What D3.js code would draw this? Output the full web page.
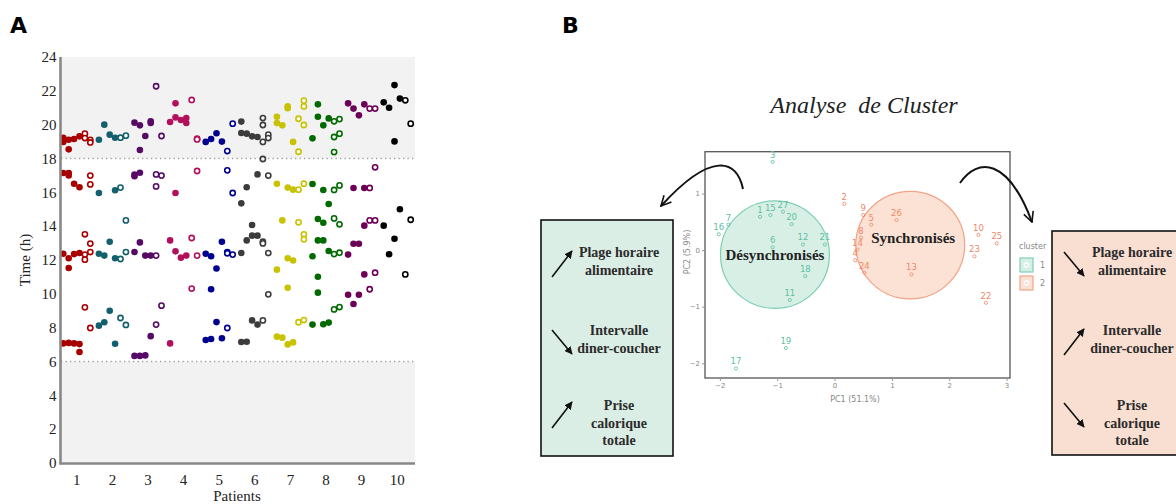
<!DOCTYPE html>
<meta charset="utf-8">
<style>
body { margin: 0; background: #fff; }
text { font-family: "Liberation Serif", serif; }
.panel { font-family: "DejaVu Sans", sans-serif; font-weight: bold; font-size: 22px; }
.tiny { font-family: "DejaVu Sans", sans-serif; font-size: 7px; fill: #888; }
</style>
<body>
<script src="https://d3js.org/d3.v7.min.js"></script>
<script>

width = 1176;
height = 504;

// ---- panel A data: meal times (h) per patient, per recorded day ----
patients = [1, 2, 3, 4, 5, 6, 7, 8, 9, 10];
days = [0, 1, 2, 3, 4, 5];
weekendDays = [4, 5];
patientColors = ['#a80000', '#12606e', '#560a66', '#b3105c', '#000090',
                 '#3c3c3c', '#c8c200', '#006a00', '#6c0058', '#000000'];

p1 = [[19.23, 18.98, 17.14, 12.37, 7.07], [19.11, 18.54, 17.14, 17.0, 12.1, 11.53, 7.1], [19.15, 16.51, 12.35, 7.07],
      [19.31, 16.3, 12.41, 7.03, 6.56], [19.47, 19.21, 13.52, 12.32, 12.02, 9.2], [19.1, 18.95, 16.99, 16.47, 12.97, 12.47, 7.98]];
p2 = [[19.11, 15.96, 12.37, 8.12], [20.0, 12.26, 8.32], [19.41, 13.08, 9.0],
      [19.23, 16.12, 12.1, 7.05], [19.23, 16.28, 12.06, 8.57], [19.35, 14.34, 12.47, 8.16]];
p3 = [[20.12, 17.05, 16.95, 12.47, 6.33], [19.96, 18.5, 17.16, 13.04, 6.33], [19.33, 12.26, 6.36],
      [20.2, 20.1, 12.26, 7.5], [22.27, 17.06, 16.35, 12.26, 8.18], [19.33, 16.99, 9.3]];
p4 = [[20.16, 13.16, 7.07], [21.26, 20.43, 15.96, 12.51], [20.28, 12.14],
      [20.39, 20.1, 12.26], [21.46, 13.3, 10.31], [19.17, 19.13, 17.26, 12.26]];
p5 = [[18.98, 12.37, 7.27], [19.15, 12.22, 10.27, 7.33], [19.49, 11.5, 8.33],
      [19.0, 13.08, 7.37], [18.44, 17.3, 12.47, 12.4, 7.98], [20.06, 15.96, 12.32]];
p6 = [[20.18, 19.51, 15.35, 12.41, 7.15], [19.47, 16.3, 13.16, 7.17], [19.31, 14.07, 13.44, 8.43],
      [19.27, 17.06, 13.44, 8.18], [20.39, 19.98, 18.98, 17.97, 13.08, 12.98, 8.43], [19.41, 19.21, 16.99, 12.41, 9.97]];
p7 = [[20.47, 20.1, 16.51, 11.43, 7.47], [19.96, 14.34, 7.41], [21.08, 20.97, 16.28, 12.1, 10.36, 7.01],
      [18.98, 16.16, 11.97, 7.13], [20.35, 18.4, 16.16, 14.23, 8.32], [21.42, 21.08, 19.98, 16.51, 13.52, 13.22, 8.45]];
p8 = [[19.19, 16.49, 12.22, 8.18], [21.2, 20.47, 14.42, 13.16, 11.01, 10.07], [19.96, 16.14, 14.2, 13.16, 8.2],
      [20.37, 15.31, 12.53, 8.3], [20.2, 19.27, 18.38, 16.14, 14.46, 12.35, 9.08], [20.33, 19.47, 16.41, 14.11, 12.43, 9.22]];
p9 = [[21.26, 12.32, 9.95], [20.95, 16.26, 12.96, 9.4], [20.55, 12.96, 9.95],
      [21.2, 16.26, 14.03, 11.15], [20.95, 16.26, 14.34, 10.27], [20.95, 17.48, 14.34, 11.25]];
p10 = [[21.32, 14.03], [21.0, 12.34], [22.34, 19.01, 13.26],
       [21.54, 15.0], [21.44, 11.15], [20.06, 14.38]];
mealTimes = [p1, p2, p3, p4, p5, p6, p7, p8, p9, p10];
yTicks = d3.range(0, 25, 2);
nightBands = [[18, 24], [0, 6]];

// ---- panel B data: PCA coordinates ----
pcaLabels  = ['3', '16', '7', '1', '15', '27', '20', '6', '12', '18', '21', '11', '19', '17',
              '2', '9', '5', '26', '8', '14', '4', '24', '10', '25', '23', '13', '22'];
pc1 = [-1.08, -2.02, -1.85, -1.30, -1.12, -0.90, -0.75, -1.08, -0.55, -0.51, -0.17, -0.78, -0.85, -1.72,
       0.17, 0.50, 0.64, 1.08, 0.46, 0.40, 0.36, 0.52, 2.51, 2.83, 2.44, 1.34, 2.64];
pc2 = [1.56, 0.28, 0.45, 0.59, 0.62, 0.68, 0.46, 0.05, 0.10, -0.46, 0.10, -0.88, -1.73, -2.09,
       0.82, 0.62, 0.45, 0.53, 0.22, 0.01, -0.18, -0.40, 0.27, 0.12, -0.11, -0.43, -0.93];
pcaCluster = [1, 1, 1, 1, 1, 1, 1, 1, 1, 1, 1, 1, 1, 1, 2, 2, 2, 2, 2, 2, 2, 2, 2, 2, 2, 2, 2];
clusterIds = [1, 2];
clusterNames = ['Désynchronisés', 'Synchronisés'];
clusterCx = [-1.04, 1.32];
clusterCy = [-0.08, 0.09];
clusterR = 0.95;
pcTicks = [-2, -1, 0, 1, 2, 3];
pcYTicks = [-2, -1, 0, 1];
boxLines = [['Plage horaire', 'alimentaire'], ['Intervalle', 'diner-coucher'], ['Prise', 'calorique', 'totale']];
trendDesync = ['up', 'down', 'up'];
trendSync = ['down', 'up', 'down'];

svg = d3.select('body').append('svg')
    .attr('width', width)
    .attr('height', height);

// ================= Panel A =================
xA = d3.scaleBand().domain(patients).range([59, 415]);
dayX = d3.scalePoint().domain(days).range([-13.5, 13.5]);
yA = d3.scaleLinear().domain([0, 24]).range([463, 57]);

gA = svg.append('g');

gA.selectAll('rect.band')
  .data(nightBands)
  .join('rect')
    .attr('x', 61).attr('width', 354)
    .attr('y', d => yA(d[1]))
    .attr('height', d => yA(d[0]) - yA(d[1]))
    .attr('fill', '#f2f2f2');

gA.selectAll('line.dot')
  .data([18, 6])
  .join('line')
    .attr('x1', 61).attr('x2', 415)
    .attr('y1', d => yA(d)).attr('y2', d => yA(d))
    .attr('stroke', '#a0a0a0')
    .attr('stroke-width', 1.3)
    .attr('stroke-dasharray', '1.3,3.2');

pts = [];
mealTimes.forEach((pd, i) => pd.forEach((times, d) => times.forEach(t =>
  pts.push({patient: patients[i], color: patientColors[i], day: d, time: t, open: weekendDays.includes(d)}))));

gA.selectAll('circle')
  .data(pts)
  .join('circle')
    .attr('cx', d => xA(d.patient) + xA.bandwidth() / 2 + dayX(d.day))
    .attr('cy', d => yA(d.time))
    .attr('r', d => d.open ? 2.6 : 3.3)
    .attr('fill', d => d.open ? '#fff' : d.color)
    .attr('stroke', d => d.open ? d.color : 'none')
    .attr('stroke-width', 1.6);

yAxis = gA.append('g')
    .attr('transform', 'translate(60.5,0)')
    .call(d3.axisLeft(yA).tickValues(yTicks).tickSize(0).tickPadding(4));
yAxis.select('.domain').remove();
yAxis.selectAll('text').style('font-family', '"Liberation Serif", serif').style('font-size', '15px').attr('fill', '#222');

xAxis = gA.append('g')
    .attr('transform', 'translate(0,463.5)')
    .call(d3.axisBottom(xA).tickSize(0).tickPadding(11));
xAxis.select('.domain').remove();
xAxis.selectAll('text').style('font-family', '"Liberation Serif", serif').style('font-size', '15px').attr('fill', '#222');

gA.append('line').attr('x1', 60.5).attr('x2', 60.5).attr('y1', 57).attr('y2', 464.5)
    .attr('stroke', '#888').attr('stroke-width', 2.6);
gA.append('line').attr('x1', 59.5).attr('x2', 415).attr('y1', 463.5).attr('y2', 463.5)
    .attr('stroke', '#888').attr('stroke-width', 2.6);

gA.append('text')
    .attr('x', 237).attr('y', 501)
    .attr('text-anchor', 'middle')
    .style('font-size', '15px').attr('fill', '#222')
    .text('Patients');
gA.append('text')
    .attr('transform', 'translate(30,260) rotate(-90)')
    .attr('text-anchor', 'middle')
    .style('font-size', '15px').attr('fill', '#222')
    .text('Time (h)');

svg.append('text').attr('class', 'panel').attr('x', 10).attr('y', 33).text('A');
svg.append('text').attr('class', 'panel').attr('x', 562).attr('y', 33).text('B');

// ================= Panel B =================
gB = svg.append('g');

gB.append('text')
    .attr('x', 864).attr('y', 113)
    .attr('text-anchor', 'middle')
    .style('font-size', '24px').style('font-style', 'italic')
    .attr('fill', '#222')
    .attr('xml:space', 'preserve')
    .text('Analyse  de Cluster');

xB = d3.scaleLinear().domain([-2.26, 3.06]).range([705, 1010]);
yB = d3.scaleLinear().domain([-2.26, 1.74]).range([378, 151.7]);
clusterFill = d3.scaleOrdinal().domain(clusterIds).range(['#d8efe6', '#fce2d5']);
clusterStroke = d3.scaleOrdinal().domain(clusterIds).range(['#7fcfb4', '#f3a386']);
clusterText = d3.scaleOrdinal().domain(clusterIds).range(['#5cbf9f', '#ee8766']);

gB.append('rect')
    .attr('x', 705).attr('y', 151.7).attr('width', 305).attr('height', 226.3)
    .attr('fill', '#fff').attr('stroke', '#555').attr('stroke-width', 1.3);

gB.selectAll('ellipse')
  .data(clusterIds)
  .join('ellipse')
    .attr('cx', (d, i) => xB(clusterCx[i]))
    .attr('cy', (d, i) => yB(clusterCy[i]))
    .attr('rx', xB(clusterR) - xB(0))
    .attr('ry', yB(0) - yB(clusterR))
    .attr('fill', d => clusterFill(d))
    .attr('stroke', d => clusterStroke(d))
    .attr('stroke-width', 1.2);

pcaPts = pcaLabels.map((l, i) => ({label: l, x: pc1[i], y: pc2[i], c: pcaCluster[i]}));

gB.selectAll('circle.pt')
  .data(pcaPts)
  .join('circle')
    .attr('cx', d => xB(d.x)).attr('cy', d => yB(d.y))
    .attr('r', 1.6)
    .attr('fill', 'none')
    .attr('stroke', d => clusterText(d.c))
    .attr('stroke-width', 0.8);

gB.selectAll('text.lab')
  .data(pcaPts)
  .join('text')
    .attr('x', d => xB(d.x)).attr('y', d => yB(d.y) - 4)
    .attr('text-anchor', 'middle')
    .style('font-family', '"DejaVu Sans", sans-serif')
    .style('font-size', '8.5px')
    .attr('fill', d => clusterText(d.c))
    .text(d => d.label);

gB.selectAll('text.cname')
  .data(clusterNames)
  .join('text')
    .attr('x', (d, i) => xB(clusterCx[i]) + (i === 0 ? 0 : 3))
    .attr('y', (d, i) => yB(clusterCy[i]) + (i === 0 ? 5 : -2))
    .attr('text-anchor', 'middle')
    .style('font-size', '15px').style('font-weight', 'bold')
    .attr('fill', '#222')
    .text(d => d);

// PCA axes
xAxB = gB.append('g').attr('transform', 'translate(0,378)')
    .call(d3.axisBottom(xB).tickValues(pcTicks).tickFormat(d3.format('d')).tickSize(3).tickPadding(2));
yAxB = gB.append('g').attr('transform', 'translate(705,0)')
    .call(d3.axisLeft(yB).tickValues(pcYTicks).tickFormat(d3.format('d')).tickSize(3).tickPadding(2));
[xAxB, yAxB].forEach(a => {
  a.select('.domain').remove();
  a.selectAll('line').attr('stroke', '#999');
  a.selectAll('text').attr('class', 'tiny').attr('fill', '#888');
});
gB.append('text').attr('class', 'tiny')
    .attr('x', 855).attr('y', 402).attr('text-anchor', 'middle').style('font-size', '8px').attr('fill', '#6a7090')
    .text('PC1 (51.1%)');
gB.append('text').attr('class', 'tiny')
    .attr('transform', 'translate(690,252) rotate(-90)').attr('text-anchor', 'middle').style('font-size', '8px')
    .text('PC2 (5.9%)');

// legend
gB.append('text').attr('class', 'tiny').attr('x', 1019).attr('y', 249).style('font-size', '8px').attr('fill', '#6a7090').text('cluster');
leg = gB.selectAll('g.leg')
  .data(clusterIds)
  .join('g')
    .attr('transform', (d, i) => `translate(1020,${258 + i * 18})`);
leg.append('rect').attr('width', 13).attr('height', 14)
    .attr('fill', d => clusterFill(d)).attr('stroke', d => clusterStroke(d)).attr('stroke-width', 1.2);
leg.append('circle').attr('cx', 6.5).attr('cy', 7).attr('r', 2.2).attr('fill', 'none')
    .attr('stroke', '#fff').attr('stroke-width', 1.2);
leg.append('text').attr('class', 'tiny').attr('x', 20).attr('y', 10).style('font-size', '8px').attr('fill', '#6a7090').text(d => d);

// curved arrows
defs = svg.append('defs');
defs.append('marker').attr('id', 'chev')
    .attr('viewBox', '0 0 12 12').attr('refX', 11).attr('refY', 6)
    .attr('markerWidth', 12).attr('markerHeight', 12).attr('markerUnits', 'userSpaceOnUse')
    .attr('orient', 'auto')
  .append('path').attr('d', 'M1,1 L11,6 L1,11').attr('fill', 'none').attr('stroke', '#111').attr('stroke-width', 1.6);
defs.append('marker').attr('id', 'head')
    .attr('viewBox', '0 0 10 10').attr('refX', 9).attr('refY', 5)
    .attr('markerWidth', 8).attr('markerHeight', 8).attr('markerUnits', 'userSpaceOnUse')
    .attr('orient', 'auto')
  .append('path').attr('d', 'M0,0 L10,5 L0,10 Z').attr('fill', '#111');

p = d3.path(); p.moveTo(743, 189); p.bezierCurveTo(737, 160, 712, 150, 661, 206);
gB.append('path').attr('d', p.toString()).attr('fill', 'none').attr('stroke', '#111')
    .attr('stroke-width', 2).attr('marker-end', 'url(#chev)');
p = d3.path(); p.moveTo(960, 183); p.bezierCurveTo(978, 157, 1008, 158, 1032, 222);
gB.append('path').attr('d', p.toString()).attr('fill', 'none').attr('stroke', '#111')
    .attr('stroke-width', 2).attr('marker-end', 'url(#chev)');

// side boxes
function sideBox(x0, x1, y0, y1, fill, trends, textX, arrowX) {
  const g = gB.append('g');
  g.append('rect').attr('x', x0).attr('y', y0).attr('width', x1 - x0).attr('height', y1 - y0)
      .attr('fill', fill).attr('stroke', '#111').attr('stroke-width', 1.6);
  const rowY = [252, 330, 405];
  boxLines.forEach((lines, i) => {
    g.append('text')
        .attr('x', textX).attr('y', rowY[i] + 5)
        .attr('text-anchor', 'middle')
        .style('font-size', '14px').style('font-weight', 'bold')
        .attr('fill', '#2b2b2b')
      .selectAll('tspan').data(lines).join('tspan')
        .attr('x', textX).attr('dy', (d, j) => j ? '1.25em' : 0)
        .text(d => d);
    const up = trends[i] === 'up';
    const cy = rowY[i] + (i === 2 ? 10 : 12);
    g.append('line')
        .attr('x1', arrowX - 10).attr('x2', arrowX + 10)
        .attr('y1', up ? cy + 13 : cy - 12).attr('y2', up ? cy - 13 : cy + 12)
        .attr('stroke', '#111').attr('stroke-width', 1.6)
        .attr('marker-end', 'url(#head)');
  });
}
sideBox(541, 673, 220, 456, '#dbeee5', trendDesync, 619, 562);
sideBox(1052, 1190, 231, 455, '#f9dfd2', trendSync, 1132, 1074);

</script>
